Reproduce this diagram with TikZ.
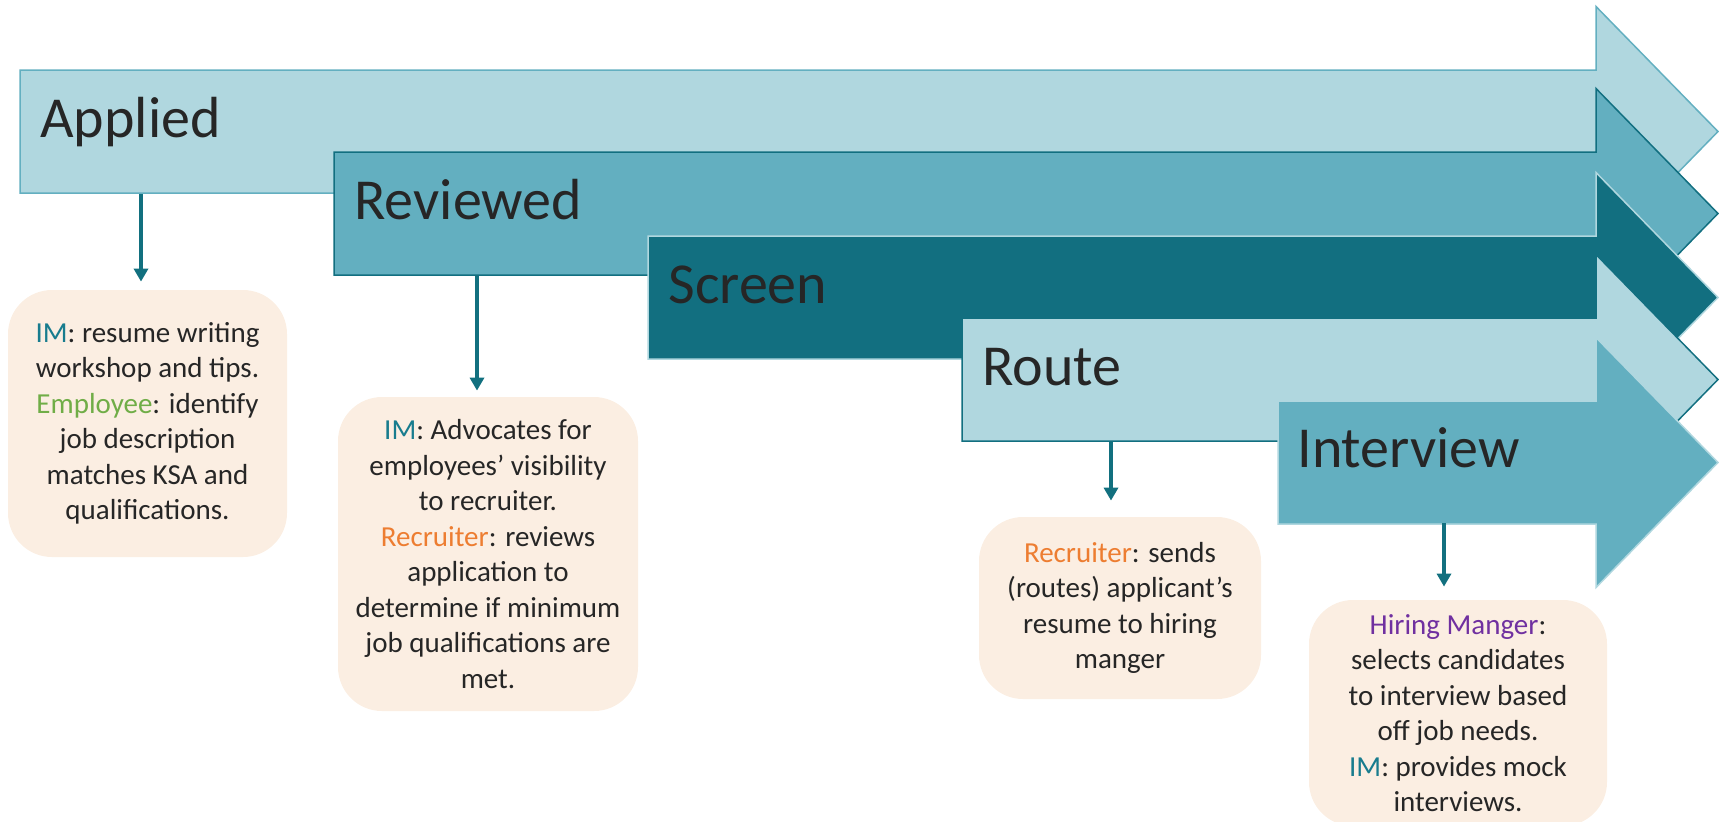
\documentclass[tikz,border=0pt]{standalone}
\usepackage{fontspec}
\setmainfont{Carlito}
\usetikzlibrary{arrows.meta,calc}
\definecolor{lightteal}{HTML}{B0D7DF}
\definecolor{midteal}{HTML}{63AFC0}
\definecolor{darkteal}{HTML}{126F80}
\definecolor{boxfill}{HTML}{FBEEE2}
\definecolor{txt}{HTML}{262626}
\definecolor{conncol}{HTML}{12707F}
\definecolor{imcol}{HTML}{187C8E}
\definecolor{empcol}{HTML}{70AD47}
\definecolor{reccol}{HTML}{ED7D31}
\definecolor{hircol}{HTML}{7030A0}
\newcommand\stagearrow[4]{\filldraw[stagepoly,fill=#3,draw=#4] (#1,#2) -- (1596,#2) -- (1596,{#2-63.5}) -- (1718,{#2+61.5}) -- (1596,{#2+186.5}) -- (1596,{#2+123}) -- (#1,{#2+123}) -- cycle;}
\begin{document}
\begin{tikzpicture}[x=0.5pt,y=-0.5pt,
  stagepoly/.style={line width=0.75pt, line join=miter},
  stagelabel/.style={anchor=base west, inner sep=0pt, text=txt, font=\fontsize{29pt}{35pt}\selectfont},
  infobox/.style={fill=boxfill, rounded corners=22pt, align=center, text=txt, font=\fontsize{14.5pt}{17.75pt}\selectfont, inner sep=0pt},
  conn/.style={draw=conncol, line width=2.25pt, -{Triangle[width=7pt,length=6.5pt]}}
]
\useasboundingbox (0,0) rectangle (1719,821);
\clip (0,0) rectangle (1719,821);

\stagearrow{20}{70}{lightteal}{midteal}
\node[stagelabel] (applied) at (40,137) {Applied};
\stagearrow{334}{152}{midteal}{darkteal}
\node[stagelabel] (reviewed) at (354,219) {Reviewed};
\stagearrow{648}{236}{darkteal}{lightteal}
\node[stagelabel] (screen) at (668,303) {Screen};
\stagearrow{962}{318}{lightteal}{darkteal}
\node[stagelabel] (route) at (982,385) {Route};
\stagearrow{1278}{401}{midteal}{lightteal}
\node[stagelabel] (interview) at (1297,467) {Interview};

\node[infobox, minimum width=139.5pt, minimum height=133.5pt] (b1) at (147.5,423.5)
 {\textcolor{imcol}{IM}: resume writing\\workshop and tips.\\\textcolor{empcol}{Employee}: identify\\job description\\matches KSA and\\qualifications.};
\node[infobox, minimum width=150pt, minimum height=157pt] (b2) at (488,554)
 {\textcolor{imcol}{IM}: Advocates for\\employees’ visibility\\to recruiter.\\\textcolor{reccol}{Recruiter}: reviews\\application to\\determine if minimum\\job qualifications are\\met.};
\node[infobox, minimum width=141pt, minimum height=91pt] (b3) at (1120,608)
 {\textcolor{reccol}{Recruiter}: sends\\(routes) applicant’s\\resume to hiring\\manger};
\node[infobox, minimum width=149pt, minimum height=113pt] (b4) at (1458,713)
 {\textcolor{hircol}{Hiring Manger}:\\selects candidates\\to interview based\\off job needs.\\\textcolor{imcol}{IM}: provides mock\\interviews.};

\coordinate (c1) at (141,194);
\coordinate (c2) at (477,276);
\coordinate (c3) at (1111,441);
\coordinate (c4) at (1444,523);
\draw[conn, shorten >=4pt] (c1) -- (c1 |- b1.north);
\draw[conn, shorten >=3pt] (c2) -- (c2 |- b2.north);
\draw[conn, shorten >=8pt] (c3) -- (c3 |- b3.north);
\draw[conn, shorten >=6.5pt] (c4) -- (c4 |- b4.north);
\end{tikzpicture}
\end{document}
